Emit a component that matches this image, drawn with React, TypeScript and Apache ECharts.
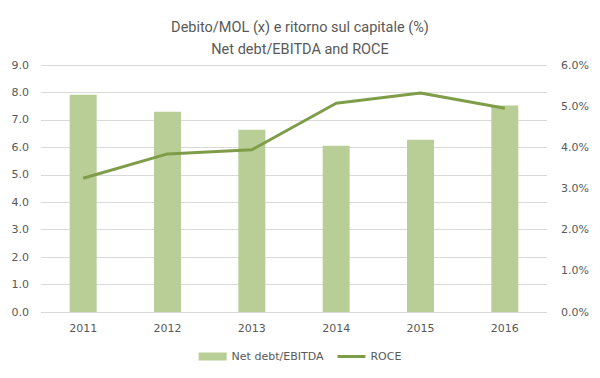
import React, { useEffect, useRef } from "react";
import * as echarts from "echarts";

const categories = ["2011", "2012", "2013", "2014", "2015", "2016"];
const netDebtEbitda = [7.92, 7.3, 6.64, 6.06, 6.28, 7.52];
const roce = [3.25, 3.84, 3.94, 5.07, 5.32, 4.95];
const titleLines = ["Debito/MOL (x) e ritorno sul capitale (%)", "Net debt/EBITDA and ROCE"];

export default function App() {
  const ref = useRef<HTMLDivElement>(null);
  useEffect(() => {
    const chart = echarts.init(ref.current!, null, { renderer: "svg" });
    const txt = "#595959";
    chart.setOption({
      animation: false,
      backgroundColor: "#ffffff",
      title: {
        text: titleLines.join("\n"),
        left: "center",
        top: 11,
        textStyle: {
          fontFamily: "Roboto, sans-serif",
          fontSize: 14.5,
          fontWeight: "normal",
          color: txt,
          lineHeight: 22,
        },
      },
      legend: {
        bottom: 11,
        left: "center",
        itemGap: 14,
        itemWidth: 28,
        itemHeight: 8,
        textStyle: { fontFamily: "DejaVu Sans, sans-serif", fontSize: 11, color: txt },
        data: [
          { name: "Net debt/EBITDA", icon: "rect" },
          { name: "ROCE", icon: "path://M0,0H28V3H0Z" },
        ],
      },
      grid: { left: 41, right: 53, top: 65, bottom: 66, containLabel: false },
      xAxis: {
        type: "category",
        data: categories,
        axisLine: { show: false },
        axisTick: { show: false },
        axisLabel: { color: txt, fontFamily: "DejaVu Sans, sans-serif", fontSize: 11, margin: 11 },
      },
      yAxis: [
        {
          type: "value",
          min: 0,
          max: 9,
          interval: 1,
          axisLine: { show: false },
          axisTick: { show: false },
          splitLine: { lineStyle: { color: "#d9d9d9" } },
          axisLabel: {
            color: txt,
            fontFamily: "DejaVu Sans, sans-serif",
            fontSize: 11,
            margin: 12,
            formatter: (v: number) => v.toFixed(1),
          },
        },
        {
          type: "value",
          min: 0,
          max: 6,
          interval: 1,
          axisLine: { show: false },
          axisTick: { show: false },
          splitLine: { show: false },
          axisLabel: {
            color: txt,
            fontFamily: "DejaVu Sans, sans-serif",
            fontSize: 11,
            margin: 14,
            formatter: (v: number) => v.toFixed(1) + "%",
          },
        },
      ],
      series: [
        {
          name: "Net debt/EBITDA",
          type: "bar",
          data: netDebtEbitda,
          barWidth: "32%",
          itemStyle: { color: "#b9cd96" },
          yAxisIndex: 0,
        },
        {
          name: "ROCE",
          type: "line",
          data: roce,
          yAxisIndex: 1,
          symbol: "none",
          lineStyle: { color: "#7f9d48", width: 3 },
          itemStyle: { color: "#7f9d48" },
        },
      ],
    });
    return () => chart.dispose();
  }, []);
  return <div ref={ref} style={{ width: 600, height: 378, margin: -8 }} />;
}
